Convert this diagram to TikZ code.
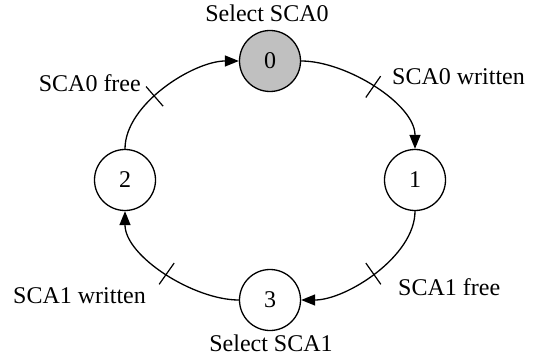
\documentclass[tikz,border=0pt]{standalone}
\usepackage{fontspec}
\setmainfont{Liberation Serif}
\usetikzlibrary{arrows.meta,decorations.markings}
\tikzset{
  state/.style={circle,draw,line width=1.3pt,minimum size=61pt,inner sep=0pt,font=\fontsize{24}{28}\selectfont},
  lbl/.style={font=\fontsize{24}{28}\selectfont,inner sep=0pt},
  trans/.style={line width=1.3pt,looseness=0.8,-{Triangle[length=14pt,width=11pt]},
    postaction={decorate,decoration={markings,mark=at position #1 with {\draw[-,line width=1.2pt] (0,-13pt) -- (0,13pt);}}}},
  trans/.default=0.5
}
\begin{document}
\begin{tikzpicture}[x=1pt,y=1pt]
\useasboundingbox (0,0) rectangle (540,359);
\node[state,fill={rgb,255:red,192;green,192;blue,192}] (s0) at (270,298) {0};
\node[state] (s1) at (415,179) {1};
\node[state] (s2) at (125,179) {2};
\node[state] (s3) at (270,59) {3};
\node[lbl,anchor=base] (l0) at (267,337) {Select SCA0};
\node[lbl,anchor=base] (l3) at (271,8) {Select SCA1};
\node[lbl,anchor=base west] (t01) at (392,274) {SCA0 written};
\node[lbl,anchor=base east] (t20) at (141,267) {SCA0 free};
\node[lbl,anchor=base west] (t13) at (398,64) {SCA1 free};
\node[lbl,anchor=base west] (t32) at (13,56) {SCA1 written};
\draw[trans] (s0.east) to[out=0,in=90] (s1.north);
\draw[trans] (s1.south) to[out=-90,in=0] (s3.east);
\draw[trans] (s3.west) to[out=180,in=-90] (s2.south);
\draw[trans=0.4] (s2.north) to[out=90,in=180] (s0.west);
\end{tikzpicture}
\end{document}
